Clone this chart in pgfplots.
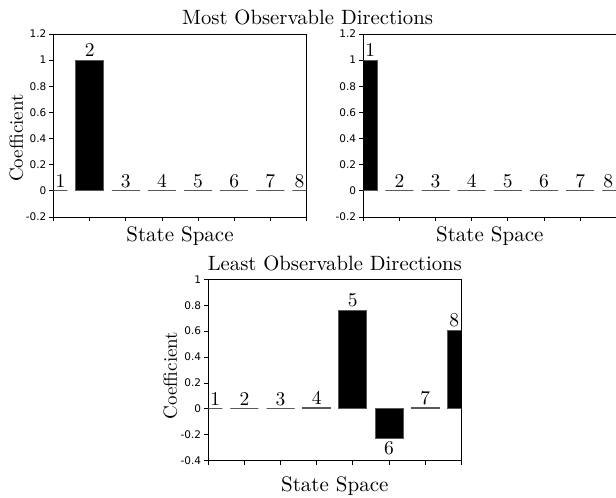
\documentclass[border=0pt]{standalone}
\usepackage{fontspec}
\setmainfont{lmroman10-regular}[Extension=.otf]
\usepackage{pgfplots}
\usepackage{pgfplotstable}
\pgfplotsset{compat=1.18}
\newfontfamily\tickfont{DejaVu Sans}

\pgfplotstableread{
x y dx ys
1 0 7 3.5
2 1 0 3.5
3 0 0 3.5
4 0 0 3.5
5 0 0 3.5
6 0 0 3.5
7 0 0 3.5
8 0 -7 3.5
}\mostA

\pgfplotstableread{
x y dx ys
1 1 7 3.5
2 0 0 3.5
3 0 0 3.5
4 0 0 3.5
5 0 0 3.5
6 0 0 3.5
7 0 0 3.5
8 0 -8 3.5
}\mostB

\pgfplotstableread{
x y dx ys
1 0 7 3.5
2 0 0 3.5
3 0 0 3.5
4 0.01 0 3
5 0.761 0 3.5
6 -0.232 0 -16
7 0.01 0 3
8 0.607 -7 3.5
}\least

\pgfplotsset{
  obsaxis/.style={
    scale only axis, width=253pt, anchor=south west,
    xmin=1, xmax=8, xtick={1,...,8}, xticklabels={},
    tick align=outside, tick pos=left, major tick length=4.5pt,
    every tick/.style={black, line width=0.8pt},
    axis line style={line width=0.9pt},
    /pgf/number format/assume math mode=true,
    yticklabel style={font=\tickfont\fontsize{10.5}{11}\selectfont, inner sep=2.5pt},
    ybar, bar width=28pt,
    xlabel={State Space},
    every axis x label/.style={at={(axis description cs:0.5,0)}, anchor=base,
      font=\fontsize{21}{24}\selectfont},
  },
  obsbar/.style={fill=black, draw=black!65, line width=0.9pt, point meta=x,
    nodes near coords={\pgfmathprintnumber{\pgfplotspointmeta}},
    visualization depends on={\thisrow{dx} \as \lblshift},
    visualization depends on={\thisrow{ys} \as \lblyshift},
    every node near coord/.append style={font=\fontsize{19.5}{20}\selectfont,
      inner sep=0pt, anchor=base, xshift=\lblshift, yshift=\lblyshift, black}},
}

\begin{document}
\begin{tikzpicture}
\useasboundingbox (0pt,0pt) rectangle (616pt,498pt);

\begin{axis}[obsaxis, at={(53.5pt,281pt)}, height=183pt,
  ymin=-0.2, ymax=1.2, ytick={-0.2,0,0.2,0.4,0.6,0.8,1,1.2},
  xlabel style={yshift=-25pt},
  ylabel={Coefficient},
  every axis y label/.style={at={(axis description cs:-0.1206,0.432)}, rotate=90, anchor=base,
    font=\fontsize{19}{22}\selectfont},
  title={Most Observable Directions},
  every axis title/.style={at={(axis description cs:0.5,1)}, anchor=base, xshift=127.5pt, yshift=9pt,
    font=\fontsize{20.7}{24}\selectfont},
]
\addplot[obsbar] table[x=x,y=y] {\mostA};
\end{axis}

\begin{axis}[obsaxis, at={(363.3pt,281pt)}, height=183pt,
  ymin=-0.2, ymax=1.2, ytick={-0.2,0,0.2,0.4,0.6,0.8,1,1.2},
  xlabel style={yshift=-25pt},
]
\addplot[obsbar] table[x=x,y=y] {\mostB};
\end{axis}

\begin{axis}[obsaxis, at={(208.3pt,37.3pt)}, height=181.4pt,
  ymin=-0.4, ymax=1, ytick={-0.4,-0.2,0,0.2,0.4,0.6,0.8,1},
  xlabel style={yshift=-30.5pt},
  ylabel={Coefficient},
  every axis y label/.style={at={(axis description cs:-0.124,0.47)}, rotate=90, anchor=base,
    font=\fontsize{19}{22}\selectfont},
  title={Least Observable Directions},
  every axis title/.style={at={(axis description cs:0.5,1)}, anchor=base, yshift=9.3pt,
    font=\fontsize{20.7}{24}\selectfont},
]
\addplot[obsbar] table[x=x,y=y] {\least};
\end{axis}
\end{tikzpicture}
\end{document}
